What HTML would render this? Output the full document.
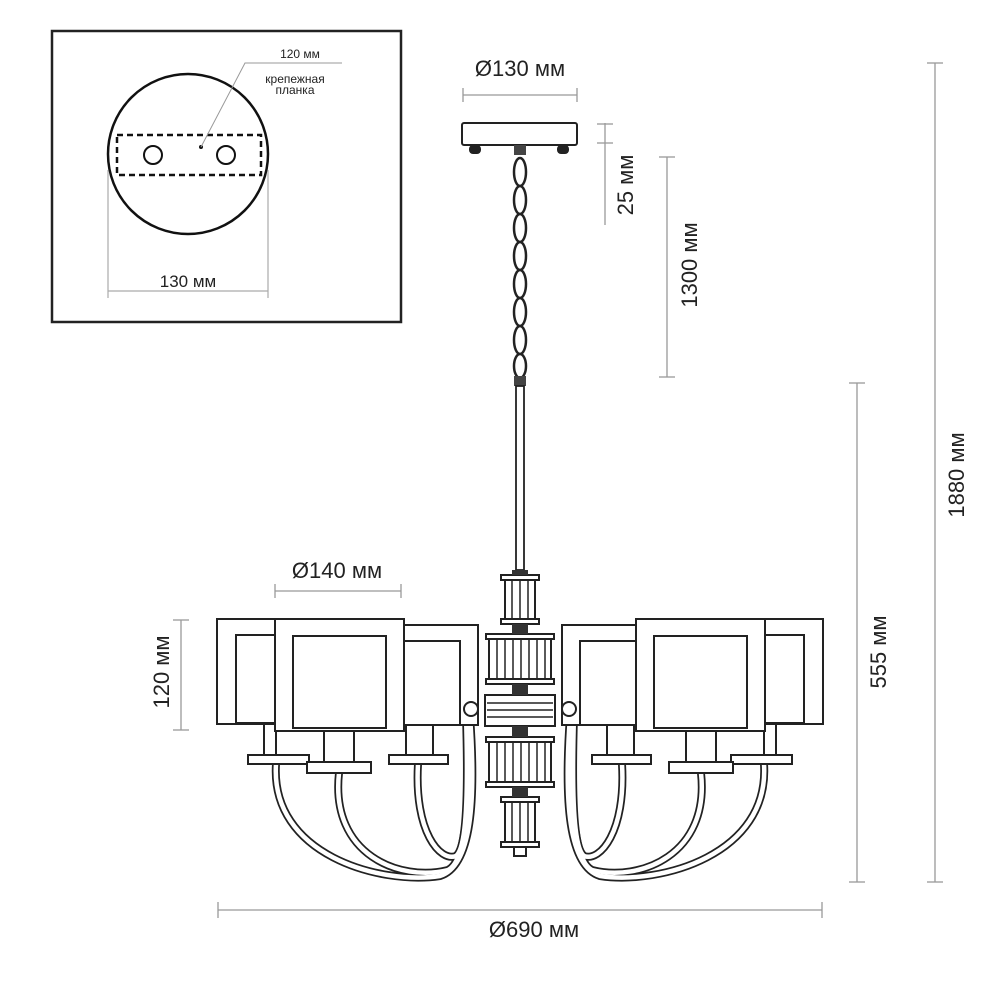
<!DOCTYPE html>
<html><head><meta charset="utf-8"><style>
html,body{margin:0;padding:0;background:#fff;}
svg{display:block;}
text{font-family:"Liberation Sans","DejaVu Sans",sans-serif;fill:#222;}
</style></head><body>
<svg width="1000" height="1000" viewBox="0 0 1000 1000" xmlns="http://www.w3.org/2000/svg">
<!-- inset -->
<rect x="52" y="31" width="349" height="291" fill="none" stroke="#222" stroke-width="2.5"/>
<circle cx="188" cy="154" r="80" fill="none" stroke="#111" stroke-width="2.5"/>
<rect x="117" y="135" width="144" height="40" fill="none" stroke="#111" stroke-width="2.5" stroke-dasharray="6,4"/>
<circle cx="153" cy="155" r="9" fill="none" stroke="#111" stroke-width="2"/>
<circle cx="226" cy="155" r="9" fill="none" stroke="#111" stroke-width="2"/>
<circle cx="201" cy="147" r="2" fill="#111"/>
<polyline points="201,147 245,63 342,63" fill="none" stroke="#999" stroke-width="1"/>
<text x="300" y="58" font-size="12" text-anchor="middle">120 мм</text>
<text x="295" y="83" font-size="12" text-anchor="middle">крепежная</text>
<text x="295" y="94" font-size="12" text-anchor="middle">планка</text>
<g stroke="#aaa" stroke-width="1.2"><line x1="108" y1="170" x2="108" y2="298"/><line x1="268" y1="170" x2="268" y2="298"/><line x1="108" y1="291" x2="268" y2="291"/></g>
<text x="188" y="287" font-size="17" text-anchor="middle">130 мм</text>

<!-- dimensions -->
<g stroke="#999" stroke-width="1.3" fill="none">
<line x1="463" y1="95" x2="577" y2="95"/><line x1="463" y1="88" x2="463" y2="102"/><line x1="577" y1="88" x2="577" y2="102"/>
<line x1="605" y1="123" x2="605" y2="225"/><line x1="597" y1="124" x2="613" y2="124"/><line x1="597" y1="143" x2="613" y2="143"/>
<line x1="667" y1="157" x2="667" y2="377"/><line x1="659" y1="157" x2="675" y2="157"/><line x1="659" y1="377" x2="675" y2="377"/>
<line x1="857" y1="383" x2="857" y2="882"/><line x1="849" y1="383" x2="865" y2="383"/><line x1="849" y1="882" x2="865" y2="882"/>
<line x1="935" y1="63" x2="935" y2="882"/><line x1="927" y1="63" x2="943" y2="63"/><line x1="927" y1="882" x2="943" y2="882"/>
<line x1="218" y1="910" x2="822" y2="910"/><line x1="218" y1="902" x2="218" y2="918"/><line x1="822" y1="902" x2="822" y2="918"/>
<line x1="275" y1="591" x2="401" y2="591"/><line x1="275" y1="584" x2="275" y2="598"/><line x1="401" y1="584" x2="401" y2="598"/>
<line x1="181" y1="620" x2="181" y2="730"/><line x1="173" y1="620" x2="189" y2="620"/><line x1="173" y1="730" x2="189" y2="730"/>
</g>
<text x="520" y="76" font-size="22" text-anchor="middle">Ø130 мм</text>
<text x="534" y="937" font-size="22" text-anchor="middle">Ø690 мм</text>
<text x="337" y="578" font-size="22" text-anchor="middle">Ø140 мм</text>
<text font-size="22" text-anchor="middle" transform="translate(633,185) rotate(-90)">25 мм</text>
<text font-size="22" text-anchor="middle" transform="translate(697,265) rotate(-90)">1300 мм</text>
<text font-size="22" text-anchor="middle" transform="translate(886,652) rotate(-90)">555 мм</text>
<text font-size="22" text-anchor="middle" transform="translate(964,475) rotate(-90)">1880 мм</text>
<text font-size="22" text-anchor="middle" transform="translate(169,672) rotate(-90)">120 мм</text>

<!-- canopy & chain -->
<rect x="462" y="123" width="115" height="22" rx="2" fill="#fff" stroke="#222" stroke-width="2"/>
<rect x="469" y="145" width="12" height="9" rx="4" fill="#222"/>
<rect x="557" y="145" width="12" height="9" rx="4" fill="#222"/>
<rect x="514" y="145" width="12" height="10" fill="#444"/>
<g fill="none" stroke="#222" stroke-width="2.5">
<ellipse cx="520" cy="172" rx="6" ry="14"/><ellipse cx="520" cy="200" rx="6" ry="14"/><ellipse cx="520" cy="228" rx="6" ry="14"/><ellipse cx="520" cy="256" rx="6" ry="14"/><ellipse cx="520" cy="284" rx="6" ry="14"/><ellipse cx="520" cy="312" rx="6" ry="14"/><ellipse cx="520" cy="340" rx="6" ry="14"/><ellipse cx="520" cy="366" rx="6" ry="12"/>
</g>
<rect x="514" y="376" width="12" height="10" fill="#444"/>
<rect x="516" y="386" width="8" height="184" fill="#fff" stroke="#222" stroke-width="1.8"/>

<!-- arms -->
<defs>
<g id="arms" fill="none" stroke-linecap="round">
<g stroke="#222" stroke-width="8">
<path d="M276,764 C270,855 380,885 440,876 C472,866 476,800 470,716"/>
<path d="M339,773 C330,855 400,882 448,870 C468,860 470,790 468,716"/>
<path d="M418,764 C414,832 440,862 456,856 C468,846 468,780 466,716"/>
</g>
<g stroke="#fff" stroke-width="4.5">
<path d="M276,764 C270,855 380,885 440,876 C472,866 476,800 470,716"/>
<path d="M339,773 C330,855 400,882 448,870 C468,860 470,790 468,716"/>
<path d="M418,764 C414,832 440,862 456,856 C468,846 468,780 466,716"/>
</g>
</g>
<g id="shades" fill="#fff" stroke="#222" stroke-width="2">
<rect x="217" y="619" width="58" height="105"/><rect x="236" y="635" width="39" height="88"/>
<rect x="404" y="625" width="74" height="100"/><rect x="404" y="641" width="56" height="84"/>
<rect x="264" y="724" width="12" height="31"/><rect x="406" y="725" width="27" height="30"/>
<rect x="324" y="731" width="30" height="31"/>
<rect x="275" y="619" width="129" height="112"/><rect x="293" y="636" width="93" height="92"/>
<rect x="248" y="755" width="61" height="9"/><rect x="389" y="755" width="59" height="9"/>
<rect x="307" y="762" width="64" height="11"/>
</g>
</defs>
<use href="#arms"/>
<use href="#arms" transform="translate(1040,0) scale(-1,1)"/>
<use href="#shades"/>
<use href="#shades" transform="translate(1040,0) scale(-1,1)"/>

<!-- center column -->
<g fill="#fff" stroke="#222" stroke-width="2">
<rect x="505" y="578" width="30" height="44"/>
<rect x="501" y="575" width="38" height="5"/><rect x="501" y="619" width="38" height="5"/>
<rect x="489" y="637" width="62" height="44"/>
<rect x="486" y="634" width="68" height="5"/><rect x="486" y="679" width="68" height="5"/>
<rect x="485" y="695" width="70" height="31"/>
<rect x="489" y="740" width="62" height="44"/>
<rect x="486" y="737" width="68" height="5"/><rect x="486" y="782" width="68" height="5"/>
<rect x="505" y="800" width="30" height="44"/>
<rect x="501" y="797" width="38" height="5"/><rect x="501" y="842" width="38" height="5"/>
<rect x="514" y="847" width="12" height="9"/>
<circle cx="471" cy="709" r="7"/><circle cx="569" cy="709" r="7"/>
</g>
<g stroke="#222" stroke-width="1.5">
<line x1="512" y1="580" x2="512" y2="620"/><line x1="520" y1="580" x2="520" y2="620"/><line x1="528" y1="580" x2="528" y2="620"/>
<line x1="497" y1="639" x2="497" y2="679"/><line x1="505" y1="639" x2="505" y2="679"/><line x1="513" y1="639" x2="513" y2="679"/><line x1="521" y1="639" x2="521" y2="679"/><line x1="529" y1="639" x2="529" y2="679"/><line x1="537" y1="639" x2="537" y2="679"/><line x1="545" y1="639" x2="545" y2="679"/>
<line x1="487" y1="703" x2="553" y2="703"/><line x1="487" y1="710" x2="553" y2="710"/><line x1="487" y1="717" x2="553" y2="717"/>
<line x1="497" y1="742" x2="497" y2="782"/><line x1="505" y1="742" x2="505" y2="782"/><line x1="513" y1="742" x2="513" y2="782"/><line x1="521" y1="742" x2="521" y2="782"/><line x1="529" y1="742" x2="529" y2="782"/><line x1="537" y1="742" x2="537" y2="782"/><line x1="545" y1="742" x2="545" y2="782"/>
<line x1="512" y1="802" x2="512" y2="842"/><line x1="520" y1="802" x2="520" y2="842"/><line x1="528" y1="802" x2="528" y2="842"/>
</g>
<g fill="#333"><rect x="512" y="570" width="16" height="5"/><rect x="512" y="624" width="16" height="10"/><rect x="512" y="684" width="16" height="11"/><rect x="512" y="726" width="16" height="11"/><rect x="512" y="787" width="16" height="10"/></g>
</svg>
</body></html>
